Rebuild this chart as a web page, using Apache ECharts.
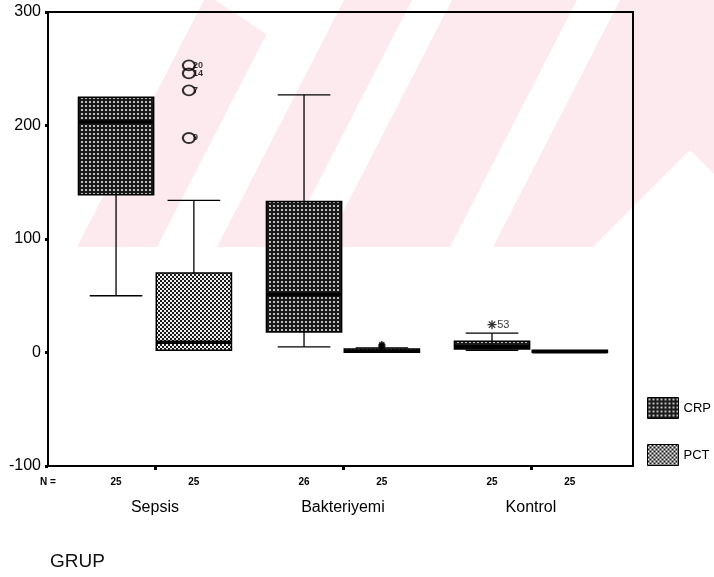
<!DOCTYPE html>
<html><head><meta charset="utf-8">
<script src="https://cdn.jsdelivr.net/npm/echarts@6/dist/echarts.min.js"></script>
<style>html,body{margin:0;padding:0;background:#fff}#c{width:714px;height:577px}</style>
</head><body><div id="c"></div>
<script>
// ---- data ----
const groups = ['Sepsis', 'Bakteriyemi', 'Kontrol'];
const groupPos = [1, 2, 3];
const nCRP = [25, 26, 25];
const nPCT = [25, 25, 25];
// [min, q1, median, q3, max]
const crpBox = [[50, 139, 203, 225, 225], [5, 18, 51, 133, 227], [2, 3, 5, 10, 17]];
const pctBox = [[2, 2, 9, 70, 134], [0, 0.3, 1, 3, 4], [0, 0.3, 0.7, 1.5, 1.5]];
// outliers: [groupIndex, value, case id]
const pctOutliers = [[0, 253, '20'], [0, 246, '14'], [0, 231, '7'], [0, 189, '9']];
const pctExtremes = [[1, 7, ''], [1, 6, ''], [1, 5, '']];
const crpExtremes = [[2, 24.5, '53']];

// ---- layout constants ----
const OFF = 0.207, HALF_W = 0.2, CAP_HALF = 0.14;

function makePattern(kind) {
  const cv = document.createElement('canvas');
  cv.width = 4; cv.height = 4;
  const ctx = cv.getContext('2d');
  if (kind === 'crp') {
    ctx.fillStyle = '#1a1a1a'; ctx.fillRect(0, 0, 4, 4);
    ctx.fillStyle = '#bdbdbd'; ctx.fillRect(1, 1, 2, 2);
  } else {
    ctx.fillStyle = '#f0f0f0'; ctx.fillRect(0, 0, 4, 4);
    ctx.fillStyle = '#1a1a1a'; ctx.fillRect(0, 0, 2, 2); ctx.fillRect(2, 2, 2, 2);
  }
  return { image: cv, repeat: 'repeat' };
}
const crpFill = makePattern('crp');
const pctFill = makePattern('pct');

function boxData(boxes, sign) {
  return boxes.map((b, i) => [groupPos[i] + sign * OFF].concat(b));
}

function renderBox(fill) {
  return function (params, api) {
    const x = api.value(0);
    const v = [1, 2, 3, 4, 5].map(i => api.value(i));
    const cx = api.coord([x, 0])[0];
    const hw = api.size([HALF_W, 0])[0];
    const ch = api.size([CAP_HALF, 0])[0];
    const y = v.map(val => api.coord([x, val])[1]);
    const line = (x1, y1, x2, y2, w) => ({
      type: 'line', shape: { x1, y1, x2, y2 },
      style: { stroke: '#000', lineWidth: w || 1.3 }
    });
    const children = [];
    if (y[4] < y[3] - 0.5) {
      children.push(line(cx, y[4], cx, y[3]));
      children.push(line(cx - ch, y[4], cx + ch, y[4]));
    }
    if (y[0] > y[1] + 0.5) {
      children.push(line(cx, y[1], cx, y[0]));
      children.push(line(cx - ch, y[0], cx + ch, y[0]));
    }
    const top = y[3], bot = y[1];
    const h = Math.max(bot - top, 2);
    children.push({
      type: 'rect', shape: { x: cx - hw, y: bot - h, width: hw * 2, height: h },
      style: { fill: fill, stroke: '#000', lineWidth: 1.5 }
    });
    children.push(line(cx - hw, y[2], cx + hw, y[2], 3.5));
    return { type: 'group', children };
  };
}

function outlierData(list, sign) {
  return list.map(o => ({ value: [groupPos[o[0]] + sign * OFF, o[1]], id: o[2] }));
}

const asteriskPath = 'path://M0,5L10,5M5,0L5,10M1.5,1.5L8.5,8.5M1.5,8.5L8.5,1.5';

const chart = echarts.init(document.getElementById('c'), null, { renderer: 'canvas' });

// watermark (pale pink background decoration)
const pink = '#fdeaee';
const wm = [
  { type: 'polygon', shape: { points: [[77, 247], [204, 0], [714, 0], [714, 247]] }, style: { fill: pink } },
  { type: 'polygon', shape: { points: [[215, 0], [330, 0], [290, 50]] }, style: { fill: '#fff' } },
  { type: 'polygon', shape: { points: [[157, 247], [217, 247], [344, 0], [284, 0]] }, style: { fill: '#fff' } },
  { type: 'polygon', shape: { points: [[285, 247], [325, 247], [452, 0], [412, 0]] }, style: { fill: '#fff' } },
  { type: 'polygon', shape: { points: [[450, 247], [493, 247], [620, 0], [577, 0]] }, style: { fill: '#fff' } },
  { type: 'polygon', shape: { points: [[593, 247], [690, 150], [714, 174], [714, 247]] }, style: { fill: '#fff' } }
].map(e => Object.assign(e, { z: -100, silent: true }));

const xMin = 0.431, xMax = 3.543;

const option = {
  animation: false,
  backgroundColor: '#fff',
  textStyle: { fontFamily: 'Liberation Sans, Arial, sans-serif' },
  graphic: wm,
  title: {
    text: 'GRUP', left: 50, top: 552, padding: 0,
    textStyle: { fontSize: 19, fontWeight: 'normal', color: '#111', fontFamily: 'Liberation Sans' }
  },
  legend: {
    orient: 'vertical', left: 647, top: 397, padding: 0, itemWidth: 31, itemHeight: 21, itemGap: 25,
    icon: 'rect',
    textStyle: { fontSize: 13, color: '#000' },
    data: [
      { name: 'CRP', itemStyle: { color: crpFill, borderColor: '#000', borderWidth: 1 } },
      { name: 'PCT', itemStyle: { color: pctFill, borderColor: '#000', borderWidth: 1 } }
    ]
  },
  grid: {
    left: 48, right: 81, top: 12, bottom: 111, show: true,
    borderColor: '#000', borderWidth: 2, backgroundColor: 'transparent'
  },
  xAxis: [
    {
      type: 'value', min: xMin, max: xMax, position: 'bottom',
      splitLine: { show: false },
      axisLine: { show: true, onZero: false, lineStyle: { color: '#000', width: 2 } },
      axisTick: { show: true, customValues: groupPos, length: 4, lineStyle: { width: 3, color: '#000' } },
      axisLabel: {
        customValues: groupPos, margin: 34, fontSize: 16, color: '#000',
        formatter: v => groups[Math.round(v) - 1]
      }
    },
    {
      type: 'value', min: xMin, max: xMax, position: 'bottom',
      splitLine: { show: false }, axisLine: { show: false, onZero: false }, axisTick: { show: false },
      axisLabel: {
        customValues: [xMin].concat(groupPos.flatMap(g => [g - OFF, g + OFF])),
        margin: 11, fontSize: 10, fontWeight: 'bold', color: '#000',
        formatter: v => {
          if (Math.abs(v - xMin) < 1e-6) return 'N =';
          const idx = groupPos.findIndex(g => Math.abs(g - OFF - v) < 1e-6);
          if (idx >= 0) return String(nCRP[idx]);
          const idx2 = groupPos.findIndex(g => Math.abs(g + OFF - v) < 1e-6);
          return idx2 >= 0 ? String(nPCT[idx2]) : '';
        }
      }
    }
  ],
  yAxis: {
    type: 'value', min: -100, max: 300, interval: 100,
    splitLine: { show: false },
    axisLine: { show: true, onZero: false, lineStyle: { color: '#000', width: 2 } },
    axisTick: { show: true, length: 3, lineStyle: { width: 3, color: '#000' } },
    axisLabel: { fontSize: 16, color: '#000', margin: 7 }
  },
  series: [
    {
      name: 'CRP', type: 'custom', xAxisIndex: 0, itemStyle: { color: crpFill },
      renderItem: renderBox(crpFill), data: boxData(crpBox, -1), z: 3,
      encode: { x: 0, y: [1, 5] }
    },
    {
      name: 'PCT', type: 'custom', xAxisIndex: 0, itemStyle: { color: pctFill },
      renderItem: renderBox(pctFill), data: boxData(pctBox, 1), z: 3,
      encode: { x: 0, y: [1, 5] }
    },
    {
      name: 'PCT outliers', type: 'scatter', symbol: 'circle', symbolSize: [12, 10],
      symbolOffset: [-5, 0],
      itemStyle: { color: 'rgba(0,0,0,0)', borderColor: '#000', borderWidth: 2 },
      label: {
        show: true, position: 'right', distance: -3, fontSize: 9, fontWeight: 'bold', color: '#000',
        formatter: p => p.data.id
      },
      data: outlierData(pctOutliers, 1), z: 5
    },
    {
      name: 'PCT extremes', type: 'scatter', symbol: asteriskPath, symbolSize: 7,
      itemStyle: { color: 'rgba(0,0,0,0)', borderColor: '#000', borderWidth: 1.5 },
      data: outlierData(pctExtremes, 1), z: 5
    },
    {
      name: 'CRP extremes', type: 'scatter', symbol: asteriskPath, symbolSize: 9,
      itemStyle: { color: 'rgba(0,0,0,0)', borderColor: '#000', borderWidth: 1.3 },
      label: {
        show: true, position: 'right', distance: 0, fontSize: 11, color: '#000',
        formatter: p => p.data.id
      },
      data: outlierData(crpExtremes, -1), z: 5
    }
  ]
};
chart.setOption(option);
</script>
</body></html>
